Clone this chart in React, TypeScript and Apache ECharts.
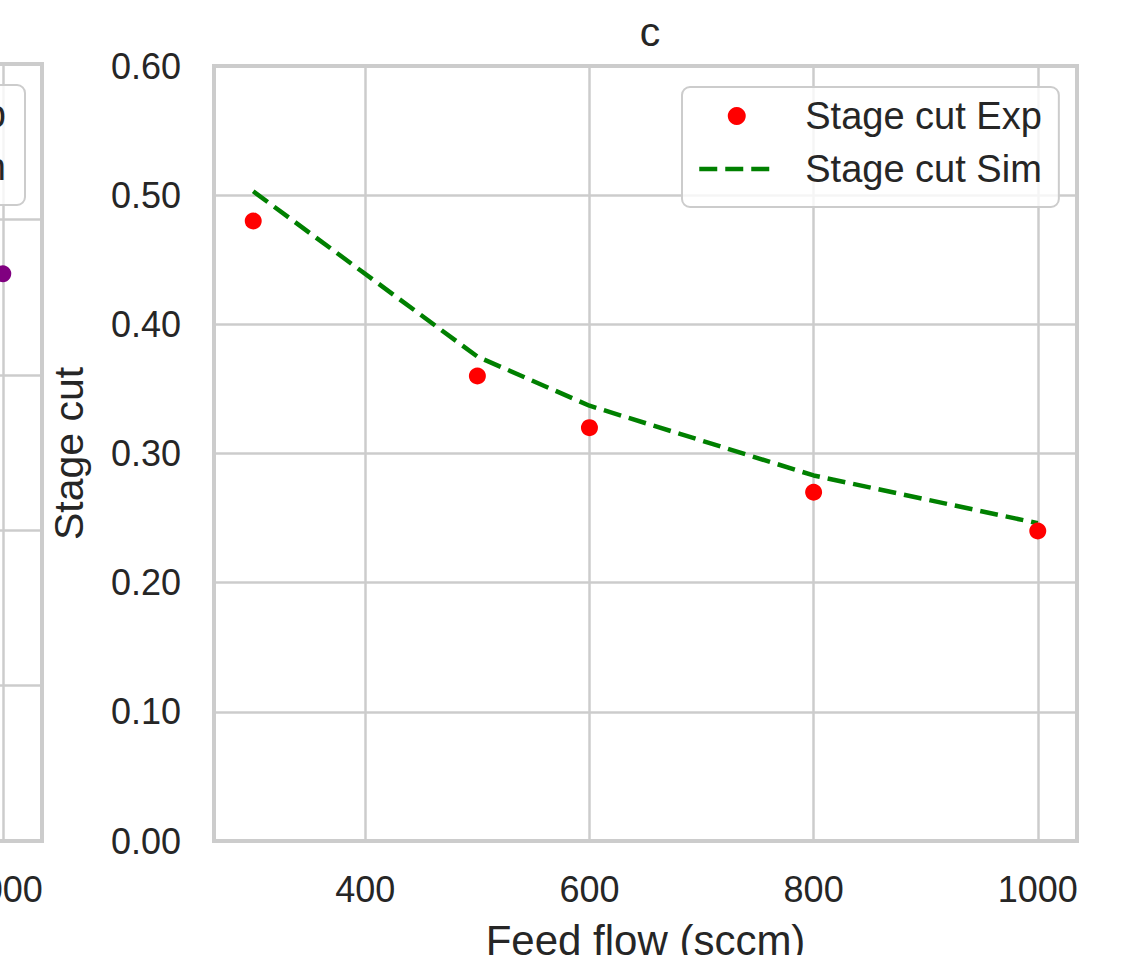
import React, { useEffect, useRef } from "react";
import * as echarts from "echarts";

// Panel c data
const feedFlow = [300, 500, 600, 800, 1000];
const stageCutExp = [0.48, 0.36, 0.32, 0.27, 0.24];
const stageCutSim = [0.503, 0.375, 0.337, 0.283, 0.246];
const xTicks = [400, 600, 800, 1000];

// Neighbouring panel (only its right edge is visible)
const leftFeedFlow = [1000];
const leftExp = [3.65];

const FONT = "'Liberation Sans', Arial, sans-serif";
const TEXT = "#262626";
const GRID = "#cccccc";

export default function App() {
  const ref = useRef<HTMLDivElement>(null);
  useEffect(() => {
    if (!ref.current) return;
    const chart = echarts.init(ref.current, null, { renderer: "svg" });
    const axisLabel = { fontSize: 36, color: TEXT, fontFamily: FONT };
    const xAxisBase = {
      type: "value",
      min: 265,
      max: 1035,
      axisLine: { show: false },
      axisTick: { show: false, customValues: xTicks },
      axisLabel: { ...axisLabel, margin: 30, customValues: xTicks, formatter: (v: number) => String(v) },
      splitLine: { show: true, lineStyle: { color: GRID, width: 2.5 } },
    };
    const legendBase = {
      orient: "vertical",
      itemWidth: 75,
      itemHeight: 18,
      itemGap: 15,
      backgroundColor: "rgba(255,255,255,0.8)",
      borderColor: GRID,
      borderWidth: 2,
      borderRadius: 8,
      lineStyle: { width: 4.5 },
      textStyle: { fontSize: 38, color: TEXT, fontFamily: FONT, padding: [0, 0, 0, 26] },
    };
    chart.setOption({
      animation: false,
      backgroundColor: "#ffffff",
      textStyle: { fontFamily: FONT },
      grid: [
        { left: -821, top: 64, width: 863, height: 777, show: true, borderColor: GRID, borderWidth: 4, backgroundColor: "#fff", containLabel: false, outerBoundsMode: "none" },
        { left: 214, top: 66, width: 863, height: 775, show: true, borderColor: GRID, borderWidth: 4, backgroundColor: "#fff", containLabel: false, outerBoundsMode: "none" },
      ],
      xAxis: [
        { ...xAxisBase, gridIndex: 0 },
        {
          ...xAxisBase,
          gridIndex: 1,
          name: "Feed flow (sccm)",
          nameLocation: "middle",
          nameGap: 78,
          nameTextStyle: { fontSize: 42, color: TEXT, fontFamily: FONT },
        },
      ],
      yAxis: [
        {
          type: "value",
          gridIndex: 0,
          min: 0,
          max: 5,
          interval: 1,
          axisLine: { show: false },
          axisTick: { show: false },
          axisLabel: { show: false },
          splitLine: { show: true, lineStyle: { color: GRID, width: 2.5 } },
        },
        {
          type: "value",
          gridIndex: 1,
          min: 0,
          max: 0.6,
          interval: 0.1,
          axisLine: { show: false },
          axisTick: { show: false },
          axisLabel: { ...axisLabel, margin: 33, formatter: (v: number) => v.toFixed(2) },
          splitLine: { show: true, lineStyle: { color: GRID, width: 2.5 } },
          name: "Stage cut",
          nameLocation: "middle",
          nameGap: 125,
          nameTextStyle: { fontSize: 41, color: TEXT, fontFamily: FONT },
        },
      ],
      legend: [
        {
          ...legendBase,
          data: [
            { name: "Stage cut Exp" },
            { name: "Stage cut Sim", itemStyle: { opacity: 0 } },
          ],
          left: 682,
          top: 87,
          padding: [10, 17, 19, 15],
        },
        {
          ...legendBase,
          data: [
            { name: "Purity Exp" },
            { name: "Purity Sim", itemStyle: { opacity: 0 } },
          ],
          right: 1112,
          top: 85,
          padding: [10, 19, 19, 15],
        },
      ],
      graphic: [
        {
          type: "text",
          x: 650,
          y: 32,
          style: { text: "c", fontSize: 41, fill: TEXT, fontFamily: FONT, textAlign: "center", textVerticalAlign: "middle" },
        },
      ],
      series: [
        {
          name: "Purity Exp",
          type: "scatter",
          xAxisIndex: 0,
          yAxisIndex: 0,
          data: leftFeedFlow.map((x, i) => [x, leftExp[i]]),
          symbolSize: 17,
          itemStyle: { color: "#800080", opacity: 1 },
        },
        {
          name: "Purity Sim",
          type: "line",
          xAxisIndex: 0,
          yAxisIndex: 0,
          data: [],
          symbol: "none",
          lineStyle: { color: "#1f77b4", width: 4.5, type: [18, 8] },
          itemStyle: { color: "#1f77b4" },
        },
        {
          name: "Stage cut Sim",
          type: "line",
          xAxisIndex: 1,
          yAxisIndex: 1,
          data: feedFlow.map((x, i) => [x, stageCutSim[i]]),
          symbol: "none",
          lineStyle: { color: "#008000", width: 4.5, type: [18, 8] },
          itemStyle: { color: "#008000" },
          z: 2,
        },
        {
          name: "Stage cut Exp",
          type: "scatter",
          xAxisIndex: 1,
          yAxisIndex: 1,
          data: feedFlow.map((x, i) => [x, stageCutExp[i]]),
          symbolSize: 17,
          itemStyle: { color: "#ff0000", opacity: 1 },
          z: 3,
        },
      ],
    });
    return () => chart.dispose();
  }, []);
  return (
    <div
      ref={ref}
      style={{ position: "fixed", left: 0, top: 0, width: 1137, height: 955, background: "#fff" }}
    />
  );
}
